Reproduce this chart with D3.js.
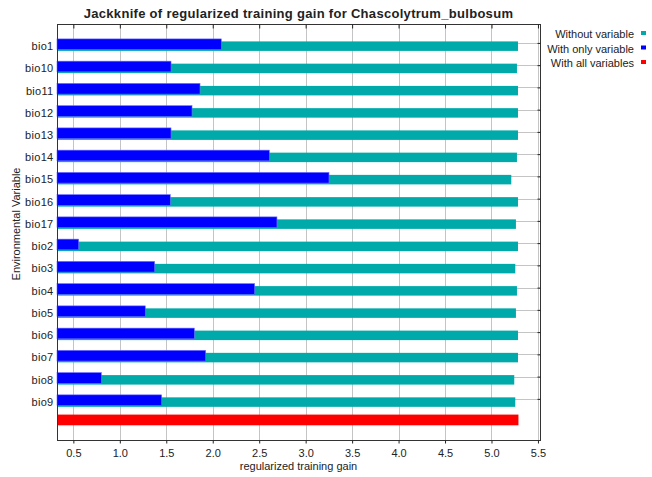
<!DOCTYPE html>
<html lang="en">
  <head>
    <meta charset="UTF-8" />
    <title>Jackknife of regularized training gain</title>
    <script src="https://d3js.org/d3.v7.min.js"></script>
    <style>
      body { margin: 0; background: #fff; }
      text { font-family: "Liberation Sans", Arial, sans-serif; fill: #222; }
    </style>
  </head>
  <body>
    <div id="chart"></div>
    <script>
      const variables = ["bio1", "bio10", "bio11", "bio12", "bio13", "bio14", "bio15", "bio16", "bio17",
        "bio2", "bio3", "bio4", "bio5", "bio6", "bio7", "bio8", "bio9"];
      const withoutVariable = [5.285, 5.274, 5.285, 5.285, 5.285, 5.274, 5.213, 5.285, 5.263,
        5.285, 5.256, 5.274, 5.263, 5.285, 5.285, 5.245, 5.256];
      const withOnlyVariable = [2.092, 1.551, 1.863, 1.777, 1.551, 2.609, 3.251, 1.543, 2.691,
        0.557, 1.375, 2.451, 1.274, 1.802, 1.924, 0.801, 1.450];
      const withAllVariables = 5.29;
      const xTicks = [0.5, 1.0, 1.5, 2.0, 2.5, 3.0, 3.5, 4.0, 4.5, 5.0, 5.5];
      const legendLabels = ["Without variable", "With only variable", "With all variables"];
      const legendColors = ["#00aaaa", "#0000ff", "#ff0000"];

      const width = 652, height = 477;
      const plotLeft = 57, plotRight = 540, plotTop = 24, plotBottom = 440;

      const svg = d3.select("#chart").append("svg")
        .attr("width", width).attr("height", height);

      const x = d3.scaleLinear().domain([0.324, 5.522]).range([plotLeft, plotRight]);
      const rows = variables.concat(["__all"]);
      const y = d3.scalePoint().domain(rows).range([plotTop, plotBottom]).padding(0.85);

      // grid lines
      svg.append("g").selectAll("line").data(xTicks).enter().append("line")
        .attr("x1", d => Math.round(x(d)) + 0.5).attr("x2", d => Math.round(x(d)) + 0.5)
        .attr("y1", plotTop).attr("y2", plotBottom)
        .attr("stroke", "#c4c4c4").attr("stroke-width", 1);
      svg.append("g").selectAll("line").data(variables).enter().append("line")
        .attr("x1", plotLeft).attr("x2", plotRight)
        .attr("y1", d => Math.round(y(d)) + 0.5).attr("y2", d => Math.round(y(d)) + 0.5)
        .attr("stroke", "#c4c4c4").attr("stroke-width", 1);

      // bars
      svg.append("g").selectAll("rect").data(variables).enter().append("rect")
        .attr("x", plotLeft).attr("y", d => y(d) - 1.5)
        .attr("width", (d, i) => x(withoutVariable[i]) - plotLeft).attr("height", 9.5)
        .attr("fill", "#00aaaa");
      svg.append("g").selectAll("rect").data(variables).enter().append("rect")
        .attr("x", plotLeft).attr("y", d => y(d) - 4)
        .attr("width", (d, i) => x(withOnlyVariable[i]) - plotLeft).attr("height", 10.7)
        .attr("fill", "#0000ff").attr("stroke", "#6f6fff").attr("stroke-width", 0.6);
      svg.append("rect")
        .attr("x", plotLeft).attr("y", y("__all") - 6.5)
        .attr("width", x(withAllVariables) - plotLeft).attr("height", 10.7)
        .attr("fill", "#ff0000");

      // frame
      svg.append("rect").attr("x", plotLeft + 0.5).attr("y", plotTop + 0.5)
        .attr("width", plotRight - plotLeft).attr("height", plotBottom - plotTop)
        .attr("fill", "none").attr("stroke", "#333").attr("stroke-width", 1);

      // axes
      const fmt = d3.format(".1f");
      const bottomAxis = svg.append("g").attr("transform", `translate(0,${plotBottom + 0.5})`)
        .call(d3.axisBottom(x).tickValues(xTicks).tickFormat(fmt).tickSizeOuter(0).tickSize(3));
      const topAxis = svg.append("g").attr("transform", `translate(0,${plotTop + 0.5})`)
        .call(d3.axisBottom(x).tickValues(xTicks).tickFormat("").tickSizeOuter(0).tickSize(4));
      const rightAxis = svg.append("g").attr("transform", `translate(${plotRight + 0.5},0)`)
        .call(d3.axisLeft(y).tickValues(variables).tickFormat("").tickSizeOuter(0).tickSize(3));
      const leftAxis = svg.append("g").attr("transform", `translate(${plotLeft + 0.5},0)`)
        .call(d3.axisLeft(y).tickValues(variables).tickSizeOuter(0).tickSize(0).tickPadding(4));
      [bottomAxis, topAxis, rightAxis, leftAxis].forEach(a => {
        a.select(".domain").remove();
        a.selectAll("line").attr("stroke", "#222");
        a.selectAll("text").attr("font-size", 11)
          .attr("font-family", "'Liberation Sans', Arial, sans-serif").attr("fill", "#222");
      });
      bottomAxis.selectAll("text").attr("dy", "0.95em");
      leftAxis.selectAll("text").attr("dy", "0.6em").attr("letter-spacing", "0.3px");

      // title and labels
      svg.append("text").attr("x", (plotLeft + plotRight) / 2).attr("y", 18)
        .attr("text-anchor", "middle").attr("font-size", 13).attr("font-weight", "bold")
        .attr("letter-spacing", "0.3px").attr("fill", "#111")
        .text("Jackknife of regularized training gain for Chascolytrum_bulbosum");
      svg.append("text").attr("x", (plotLeft + plotRight) / 2).attr("y", 470)
        .attr("text-anchor", "middle").attr("font-size", 11)
        .text("regularized training gain");
      svg.append("text").attr("transform", "translate(20,224) rotate(-90)")
        .attr("text-anchor", "middle").attr("font-size", 11)
        .text("Environmental Variable");

      // legend
      const legend = svg.append("g").selectAll("g").data(legendLabels).enter().append("g")
        .attr("transform", (d, i) => `translate(0,${38 + i * 14.5})`);
      legend.append("text").attr("x", 634).attr("y", 0)
        .attr("text-anchor", "end").attr("font-size", 11).text(d => d);
      legend.append("rect").attr("x", 641).attr("y", -7).attr("width", 5).attr("height", 4)
        .attr("fill", (d, i) => legendColors[i]);
    </script>
  </body>
</html>
